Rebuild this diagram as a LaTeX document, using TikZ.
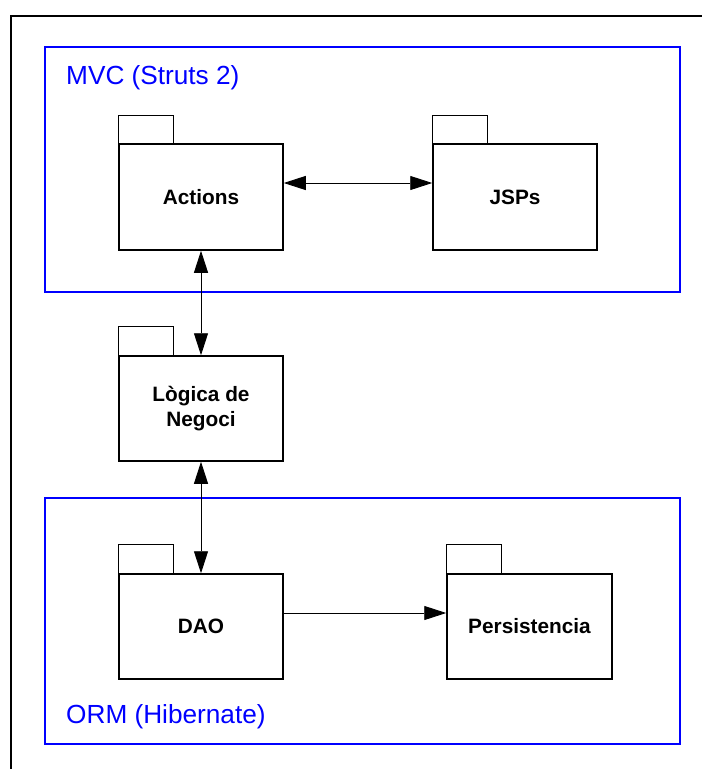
\documentclass[tikz,border=0pt]{standalone}
\usepackage{fontspec}
\setmainfont{Liberation Sans}
\usetikzlibrary{arrows.meta}
\definecolor{pureblue}{RGB}{0,0,255}
\tikzset{
  pkgbody/.style={draw=black, line width=1.5pt, fill=white, inner sep=0pt, align=center, font=\fontsize{20.8}{25}\selectfont\bfseries},
  pkgtab/.style={draw=black, line width=1.5pt},
  grp/.style={draw=pureblue, line width=1.8pt},
  grplabel/.style={text=pureblue, inner sep=0pt, anchor=base west, font=\fontsize{26.2}{30}\selectfont},
  conn/.style={line width=0.9pt, -{Triangle[length=22pt,width=14pt]}},
  biconn/.style={line width=0.9pt, {Triangle[length=22pt,width=14pt]}-{Triangle[length=22pt,width=14pt]}}
}
\begin{document}
\begin{tikzpicture}[x=1pt,y=-1pt]
\useasboundingbox (0,0) rectangle (702,769);
\clip (0,0) rectangle (702,769);
\draw[line width=2.2pt] (11,16) rectangle (720,790);
% groups
\draw[grp] (45,47) rectangle (680,292);
\draw[grp] (45,498) rectangle (680,744);
\node[grplabel] (mvc) at (66,84) {MVC (Struts 2)};
\node[grplabel] (orm) at (66,723) {ORM (Hibernate)};
% packages
\node[pkgbody, minimum width=164pt, minimum height=106pt] (act) at (201,197) {Actions};
\draw[pkgtab] (act.north west) rectangle ++(55,-28);
\node[pkgbody, minimum width=164pt, minimum height=106pt] (jsp) at (515,197) {JSPs};
\draw[pkgtab] (jsp.north west) rectangle ++(55,-28);
\node[pkgbody, minimum width=164pt, minimum height=105pt] (log) at (201,408.5) {Lògica de\\Negoci};
\draw[pkgtab] (log.north west) rectangle ++(55,-29);
\node[pkgbody, minimum width=164pt, minimum height=105pt] (dao) at (201,626.5) {DAO};
\draw[pkgtab] (dao.north west) rectangle ++(55,-29);
\node[pkgbody, minimum width=165pt, minimum height=105pt] (per) at (529.5,626.5) {Persistencia};
\draw[pkgtab] (per.north west) rectangle ++(55,-29);
% connectors
\draw[biconn] ([yshift=14pt]act.east) -- ([yshift=14pt]jsp.west);
\draw[biconn] (act.south) -- (log.north);
\draw[biconn] (log.south) -- (dao.north);
\draw[conn] ([yshift=13.5pt]dao.east) -- ([yshift=13.5pt]per.west);
\end{tikzpicture}
\end{document}
